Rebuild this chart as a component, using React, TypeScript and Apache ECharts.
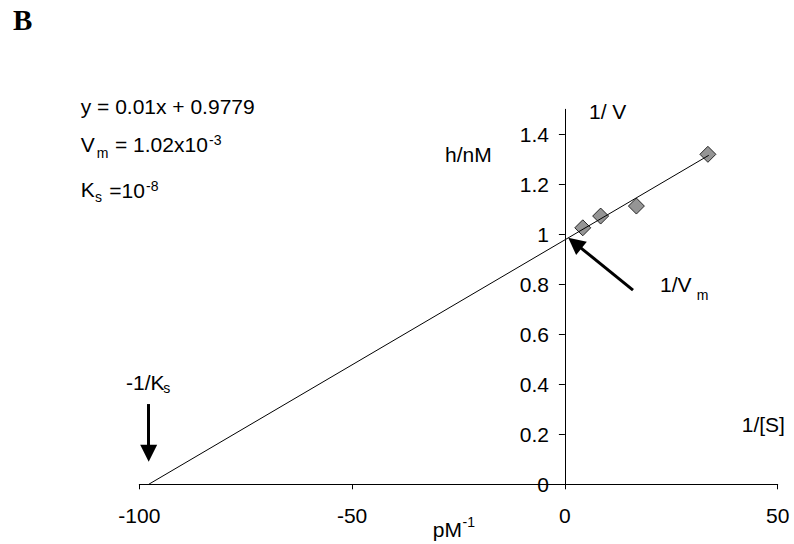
import React, { useEffect, useRef } from "react";
import * as echarts from "echarts";

// Lineweaver–Burk data: 1/[S] (pM^-1) against 1/V (h/nM)
const invS = [4.2, 8.4, 16.8, 33.6];
const invV = [1.026, 1.073, 1.113, 1.32];

// Fitted line y = 0.01x + 0.9779, drawn between its x-intercept and the last point
const slope = 0.01;
const intercept = 0.9779;
const fitX = [-97.79, 33.8];

const xTicks = [-100, -50, 0, 50];
const yTicks = [0, 0.2, 0.4, 0.6, 0.8, 1, 1.2, 1.4];

// Annotation arrows, [tail, head centre] in data units
const ksArrow = [
  [-97.8, 0.321],
  [-97.8, 0.124],
];
const vmArrow = [
  [16.0, 0.777],
  [2.34, 0.965],
];

const SANS = "'Liberation Sans', Arial, Helvetica, sans-serif";

const GRID = { left: 139.3, right: 16.3, top: 109.3, bottom: 59.7 };
const WIDTH = 794;

function txt(text: string, x: number, y: number, size = 21, extra: any = {}) {
  return {
    type: "text",
    x,
    y,
    style: {
      text,
      font: `${extra.weight || "normal"} ${size}px ${extra.family || SANS}`,
      fill: "#000",
      align: "left",
      verticalAlign: "middle",
      textAlign: "left",
      textVerticalAlign: "middle",
    },
  };
}

export default function App() {
  const ref = useRef<HTMLDivElement>(null);

  useEffect(() => {
    if (!ref.current) return;
    const chart = echarts.init(ref.current, null, { renderer: "svg" });

    const fitData = fitX.map((x) => [x, slope * x + intercept]);
    const points = invS.map((x, i) => [x, invV[i]]);

    // the vertical axis crosses the horizontal one at x = 0
    const xMin = xTicks[0];
    const xMax = xTicks[xTicks.length - 1];
    const plotW = WIDTH - GRID.left - GRID.right;
    const zeroOffset = ((0 - xMin) / (xMax - xMin)) * plotW;

    chart.setOption({
      animation: false,
      grid: GRID,
      xAxis: {
        type: "value",
        min: xMin,
        max: xMax,
        interval: 50,
        splitLine: { show: false },
        axisLine: { onZero: false, lineStyle: { color: "#000", width: 1 } },
        axisTick: { show: true, length: 5, lineStyle: { color: "#000" } },
        axisLabel: {
          color: "#000",
          fontSize: 21,
          fontFamily: SANS,
          margin: 21,
        },
      },
      yAxis: {
        type: "value",
        min: 0,
        max: 1.5,
        position: "left",
        offset: -zeroOffset,
        splitLine: { show: false },
        axisLine: { show: true, onZero: false, lineStyle: { color: "#000", width: 1 } },
        axisTick: {
          show: true,
          length: 6,
          lineStyle: { color: "#000" },
          customValues: yTicks,
        },
        axisLabel: {
          color: "#000",
          fontSize: 21,
          fontFamily: SANS,
          margin: 16,
          customValues: yTicks,
        },
      },
      series: [
        {
          type: "line",
          data: fitData,
          symbol: "none",
          lineStyle: { color: "#000", width: 1 },
          silent: true,
          markLine: {
            silent: true,
            symbol: ["none", "triangle"],
            symbolSize: [17, 17],
            label: { show: false },
            lineStyle: { color: "#000", width: 3, type: "solid" },
            data: [
              [{ coord: ksArrow[0] }, { coord: ksArrow[1] }],
              [{ coord: vmArrow[0] }, { coord: vmArrow[1] }],
            ],
          },
        },
        {
          type: "scatter",
          data: points,
          symbol: "diamond",
          symbolSize: 16,
          itemStyle: { color: "#7a7a7a", borderColor: "#000", borderWidth: 1 },
        },
      ],
      graphic: [
        txt("B", 13, 20, 29, { weight: "bold", family: "'Liberation Serif', 'Times New Roman', serif" }),
        txt("y = 0.01x + 0.9779", 80.7, 106),
        txt("V", 80.7, 144),
        txt("m", 96.7, 153, 14),
        txt("= 1.02x10", 115, 144),
        txt("-3", 209, 140, 14),
        txt("K", 80.7, 189),
        txt("s", 95, 197, 14),
        txt("=10", 109.3, 190),
        txt("-8", 146, 186, 14),
        txt("h/nM", 445, 154),
        txt("1/ V", 589, 111),
        txt("1/V", 660, 284),
        txt("m", 696.7, 295, 14),
        txt("-1/K", 126, 382),
        txt("s", 163.3, 388, 14),
        txt("1/[S]", 741.7, 424),
        txt("pM", 432.7, 529),
        txt("-1", 462.5, 522, 14),
      ],
    });

    return () => chart.dispose();
  }, []);

  return (
    <div
      ref={ref}
      style={{ position: "absolute", left: 0, top: 0, width: 794, height: 544 }}
    />
  );
}
